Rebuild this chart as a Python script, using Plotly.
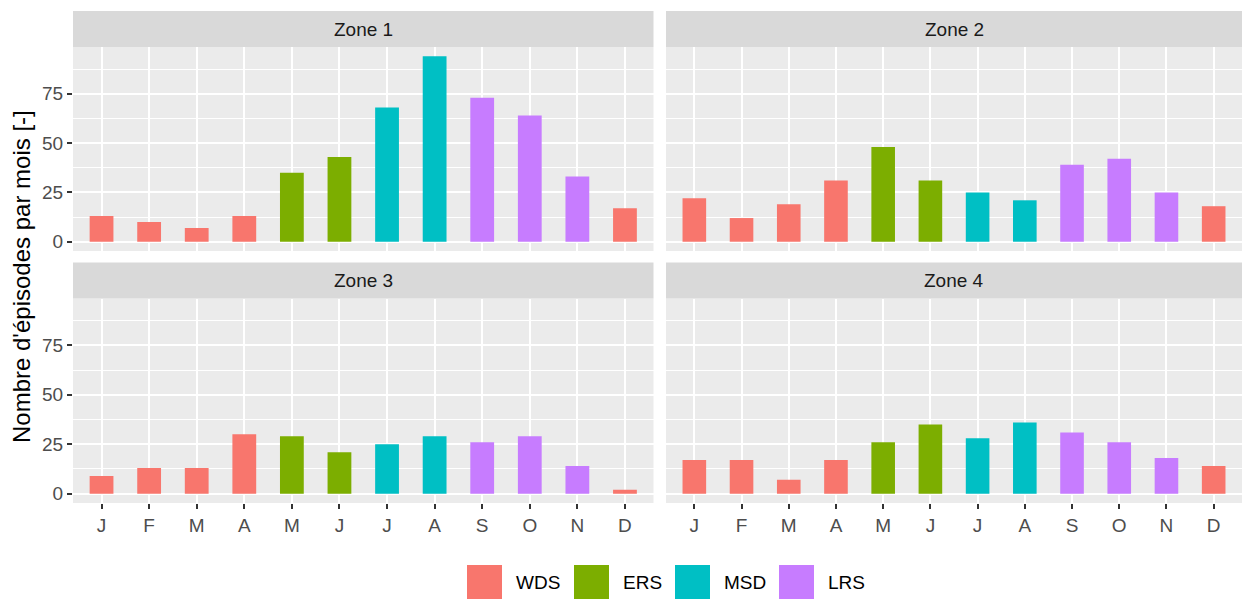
import plotly.graph_objects as go

# Monthly episode counts per zone
months = ["J", "F", "M", "A", "M", "J", "J", "A", "S", "O", "N", "D"]
seasons = ["WDS", "WDS", "WDS", "WDS", "ERS", "ERS", "MSD", "MSD", "LRS", "LRS", "LRS", "WDS"]
season_order = ["WDS", "ERS", "MSD", "LRS"]
zones = ["Zone 1", "Zone 2", "Zone 3", "Zone 4"]
zone1 = [13, 10, 7, 13, 35, 43, 68, 94, 73, 64, 33, 17]
zone2 = [22, 12, 19, 31, 48, 31, 25, 21, 39, 42, 25, 18]
zone3 = [9, 13, 13, 30, 29, 21, 25, 29, 26, 29, 14, 2]
zone4 = [17, 17, 7, 17, 26, 35, 28, 36, 31, 26, 18, 14]
zone_values = [zone1, zone2, zone3, zone4]
y_ticks = [0, 25, 50, 75]

colors = {"WDS": "#F8766D", "ERS": "#7CAE00", "MSD": "#00BFC4", "LRS": "#C77CFF"}

W, H = 1243, 599
FONT = "Liberation Sans, Arial, sans-serif"
SMALL = 19
TITLE = 24


def px_x(x):
    return x / W


def px_y(y):
    return 1 - y / H


# Panel pixel boxes (left, right) and (top, bottom, strip top)
cols = [(73, 653.5), (666, 1242)]
rows = [(47, 251, 11), (298.5, 503, 262.5)]

fig = go.Figure()
shapes = []
annotations = []

positions = list(range(1, len(months) + 1))

for i, (zname, vals) in enumerate(zip(zones, zone_values)):
    r, c = divmod(i, 2)
    ax_id = "" if i == 0 else str(i + 1)
    xref = "x" + ax_id
    yref = "y" + ax_id
    for s in season_order:
        xs = [p for p, ss in zip(positions, seasons) if ss == s]
        ys = [v for v, ss in zip(vals, seasons) if ss == s]
        fig.add_trace(go.Bar(
            x=xs, y=ys, width=0.5, name=s,
            marker=dict(color=colors[s], line=dict(width=0)),
            xaxis=xref, yaxis=yref, showlegend=False,
        ))

    left, right = cols[c]
    top, bottom, strip_top = rows[r]
    xdom = [px_x(left), px_x(right)]
    ydom = [px_y(bottom), px_y(top)]

    xaxis = dict(
        domain=xdom, anchor=yref, range=[0.4, 12.6],
        tickmode="array", tickvals=positions, ticktext=months,
        showgrid=True, gridcolor="white", gridwidth=2,
        zeroline=False, showline=False,
        tickfont=dict(family=FONT, size=SMALL, color="#4D4D4D"),
        showticklabels=(r == 1),
        ticks="outside" if r == 1 else "", ticklen=5, tickwidth=2, tickcolor="#333333",
        fixedrange=True,
    )
    yaxis = dict(
        domain=ydom, anchor=xref, range=[-4.7, 98.7],
        tickmode="array", tickvals=y_ticks,
        showgrid=True, gridcolor="white", gridwidth=2,
        minor=dict(tickmode="array", tickvals=[12.5, 37.5, 62.5, 87.5],
                   showgrid=True, gridcolor="white", gridwidth=1.1, ticks=""),
        zeroline=False, showline=False,
        tickfont=dict(family=FONT, size=SMALL, color="#4D4D4D"),
        showticklabels=(c == 0),
        ticks="outside" if c == 0 else "", ticklen=5, tickwidth=2, tickcolor="#333333",
        fixedrange=True,
    )
    fig.update_layout(**{"xaxis" + ax_id: xaxis, "yaxis" + ax_id: yaxis})

    # panel background
    shapes.append(dict(type="rect", xref="paper", yref="paper",
                       x0=xdom[0], x1=xdom[1], y0=ydom[0], y1=ydom[1],
                       fillcolor="#EBEBEB", line=dict(width=0), layer="below"))
    # facet strip
    shapes.append(dict(type="rect", xref="paper", yref="paper",
                       x0=xdom[0], x1=xdom[1], y0=px_y(top), y1=px_y(strip_top),
                       fillcolor="#D9D9D9", line=dict(width=0), layer="below"))
    annotations.append(dict(text=zname, xref="paper", yref="paper",
                            x=(xdom[0] + xdom[1]) / 2, y=px_y((top + strip_top) / 2),
                            xanchor="center", yanchor="middle", showarrow=False,
                            font=dict(family=FONT, size=SMALL, color="#1A1A1A")))

# y axis title
annotations.append(dict(text="Nombre d'épisodes par mois [-]", xref="paper", yref="paper",
                        x=px_x(22), y=px_y(277), textangle=-90,
                        xanchor="center", yanchor="middle", showarrow=False,
                        font=dict(family=FONT, size=TITLE, color="black")))

# legend keys along the bottom
key_left = [467, 574, 675, 779]
key_top, key_size = 565, 35
for s, kx in zip(season_order, key_left):
    shapes.append(dict(type="rect", xref="paper", yref="paper",
                       x0=px_x(kx), x1=px_x(kx + key_size),
                       y0=px_y(key_top + key_size), y1=px_y(key_top),
                       fillcolor=colors[s], line=dict(width=0)))
    annotations.append(dict(text=s, xref="paper", yref="paper",
                            x=px_x(kx + key_size + 12), y=px_y(key_top + key_size / 2),
                            xanchor="left", yanchor="middle", showarrow=False,
                            font=dict(family=FONT, size=SMALL, color="black")))

fig.update_layout(
    width=W, height=H,
    margin=dict(l=0, r=0, t=0, b=0),
    paper_bgcolor="white", plot_bgcolor="rgba(0,0,0,0)",
    barmode="overlay", showlegend=False,
    shapes=shapes, annotations=annotations,
)

fig.write_html("out.html", config={"displayModeBar": False})
